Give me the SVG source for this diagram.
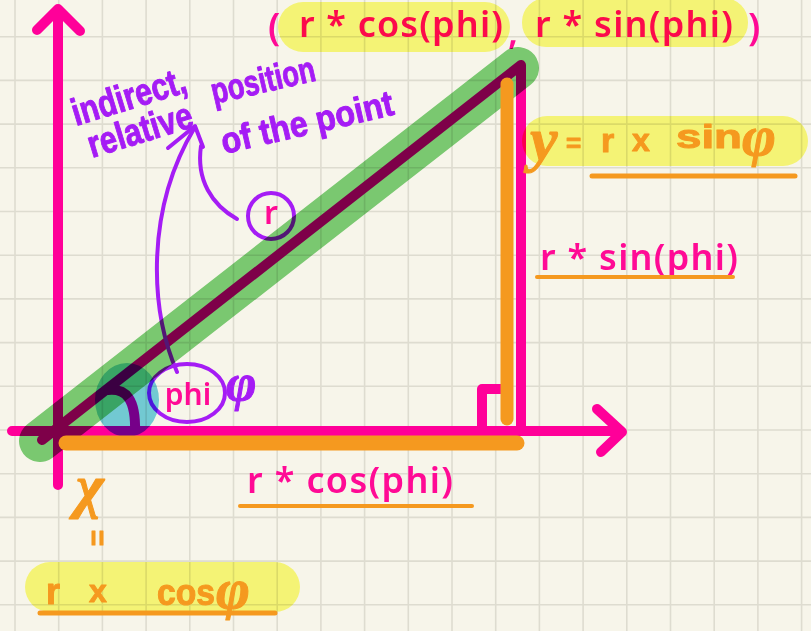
<svg xmlns="http://www.w3.org/2000/svg" width="811" height="631" viewBox="0 0 811 631">
<style>
.pk{stroke:#ff0099;stroke-width:10;stroke-linecap:round;stroke-linejoin:round;fill:none}
.or{stroke:#f5991f;stroke-linecap:round;stroke-linejoin:round;fill:none}
.pu{stroke:#a51cf5;stroke-width:4;stroke-linecap:round;stroke-linejoin:round;fill:none}
.hl{mix-blend-mode:multiply}
.t{font-family:'Noto Sans',sans-serif;font-weight:600;fill:#ff0a95}
.hwp{font-family:'Liberation Sans',sans-serif;font-weight:bold;fill:#a51cf5;stroke:#a51cf5;stroke-width:1;stroke-linejoin:round}
.hwo{font-family:'Liberation Sans',sans-serif;font-weight:bold;fill:#f5991f;stroke:#f5991f;stroke-width:1;stroke-linejoin:round}
.gr{font-family:'Liberation Serif',serif;font-style:italic}
</style>
<rect width="811" height="631" fill="#f7f5ea"/>
<path id="grid" stroke="#dedcd0" stroke-width="1.6" fill="none" d="M15,0V631M58.7,0V631M102.4,0V631M146.1,0V631M189.8,0V631M233.5,0V631M277.2,0V631M320.9,0V631M364.6,0V631M408.3,0V631M452,0V631M495.7,0V631M539.4,0V631M583.1,0V631M626.8,0V631M670.5,0V631M714.2,0V631M757.9,0V631M801.6,0V631M0,36.7H811M0,80.4H811M0,124.1H811M0,167.8H811M0,211.5H811M0,255.2H811M0,298.9H811M0,342.6H811M0,386.3H811M0,430H811M0,473.7H811M0,517.4H811M0,561.1H811M0,604.8H811"/>

<g id="axes">
  <path class="pk" d="M58,485V12M37,30L58,9L80,31"/>
  <path class="pk" d="M12,431H621M597,409L622,432L601,452"/>
</g>

<g id="triangle">
  <path class="pk" d="M42,440L521,65L521,430"/>
  <path class="pk" stroke-width="6" d="M482,428V389H505"/>
  <path class="pk" d="M108,390C126,388 136,399 135,432"/>
</g>

<g id="point-label">
  <text class="t" x="268" y="40" font-size="38">(</text>
  <text class="t" x="299" y="37" font-size="36" textLength="204">r * cos(phi)</text>
  <text class="t" x="508" y="44" font-size="36">,</text>
  <text class="t" x="535" y="37" font-size="36" textLength="198">r * sin(phi)</text>
  <text class="t" x="748" y="40" font-size="38">)</text>
</g>

<g id="phi-node">
  <ellipse class="pu" cx="187" cy="393" rx="38" ry="29"/>
  <text class="t" x="188" y="405" font-size="30" text-anchor="middle">phi</text>
  <text class="hwp gr" x="226" y="400" font-size="52">φ</text>
</g>

<g id="r-node">
  <circle class="pu" cx="271" cy="216" r="23"/>
  <text class="t" x="271" y="224" font-size="32" text-anchor="middle">r</text>
</g>

<g id="note">
  <text class="hwp" x="76" y="126" font-size="38" textLength="118" lengthAdjust="spacingAndGlyphs" transform="rotate(-17 76 126)">indirect,</text>
  <text class="hwp" x="92" y="158" font-size="38" textLength="108" lengthAdjust="spacingAndGlyphs" transform="rotate(-17 92 158)">relative</text>
  <text class="hwp" x="214" y="104" font-size="36" textLength="106" lengthAdjust="spacingAndGlyphs" transform="rotate(-13 214 104)">position</text>
  <text class="hwp" x="224" y="154" font-size="36" textLength="176" lengthAdjust="spacingAndGlyphs" transform="rotate(-13 224 154)">of the point</text>
</g>

<g id="connectors">
  <path class="pu" stroke-width="5" d="M177,372C150,310 145,210 195,127"/>
  <path class="pu" stroke-width="5" d="M168,148L195,126L203,147"/>
  <path class="pu" stroke-width="5" d="M237,219C212,205 196,180 201,146"/>
</g>

<g id="highlights">
  <line class="hl" x1="40" y1="441" x2="518" y2="68" stroke="#7ed07a" stroke-width="42" stroke-linecap="round"/>
  <ellipse class="hl" cx="127" cy="400" rx="32" ry="37" fill="#76d1e5"/>
  <rect class="hl" x="278" y="2" width="232" height="50" rx="25" fill="#fcfd80"/>
  <rect class="hl" x="522" y="-2" width="226" height="49" rx="24" fill="#fcfd80"/>
  <rect class="hl" x="522" y="116" width="286" height="50" rx="25" fill="#fcfd80"/>
  <rect class="hl" x="25" y="562" width="275" height="50" rx="25" fill="#fcfd80"/>
</g>

<g id="legs">
  <path class="or" stroke-width="15" d="M66,443H517"/>
  <path class="or" stroke-width="13" d="M507,84V419"/>
</g>

<g id="sin-label">
  <text class="t" x="540" y="270" font-size="36" textLength="198">r * sin(phi)</text>
  <path class="or" stroke-width="4" d="M537,277H733"/>
</g>

<g id="cos-label">
  <text class="t" x="247" y="493" font-size="36" textLength="206">r * cos(phi)</text>
  <path class="or" stroke-width="4" d="M240,506H472"/>
</g>

<g id="y-eq">
  <text class="hwo gr" x="530" y="160" font-size="62">y</text>
  <text class="hwo" x="566" y="152" font-size="26">=</text>
  <text class="hwo" x="601" y="152" font-size="34">r</text>
  <text class="hwo" x="632" y="151" font-size="32">x</text>
  <text class="hwo" x="676" y="148" font-size="34" textLength="66" lengthAdjust="spacingAndGlyphs">sin</text>
  <text class="hwo gr" x="742" y="155" font-size="58">φ</text>
  <path class="or" stroke-width="5" d="M592,176H795"/>
</g>

<g id="x-eq">
  <text class="hwo gr" x="76" y="506" font-size="60">χ</text>
  <text class="hwo" x="88" y="538" font-size="28" text-anchor="middle" transform="rotate(90 88 538)">=</text>
  <text class="hwo" x="46" y="604" font-size="36">r</text>
  <text class="hwo" x="89" y="602" font-size="32">x</text>
  <text class="hwo" x="157" y="605" font-size="36" textLength="58" lengthAdjust="spacingAndGlyphs">cos</text>
  <text class="hwo gr" x="216" y="608" font-size="58">φ</text>
  <path class="or" stroke-width="5" d="M40,613H275"/>
</g>
</svg>
